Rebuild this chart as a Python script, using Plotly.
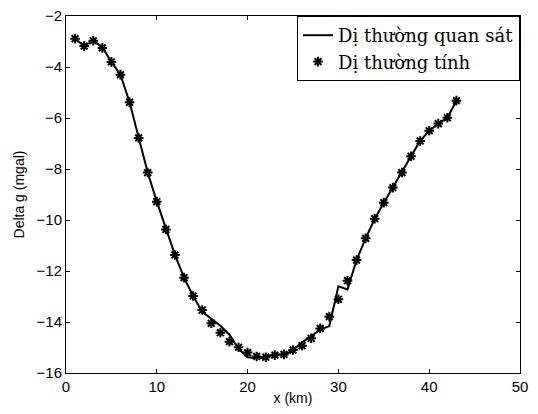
import plotly.graph_objects as go

x_km = list(range(1, 44))
observed = [-2.89, -3.18, -2.97, -3.22, -3.80, -4.30, -5.38, -6.78, -8.14, -9.28,
            -10.37, -11.37, -12.26, -12.98, -13.60, -13.86, -14.15, -14.50, -15.05, -15.38,
            -15.42, -15.40, -15.25, -15.30, -15.10, -14.80, -14.55, -14.30, -14.16, -12.60,
            -12.72, -11.57, -10.72, -9.95, -9.32, -8.73, -8.14, -7.50, -6.90, -6.50,
            -6.22, -5.99, -5.32]
computed = [-2.89, -3.18, -2.97, -3.25, -3.80, -4.30, -5.38, -6.78, -8.14, -9.28,
            -10.37, -11.37, -12.26, -12.98, -13.53, -14.05, -14.42, -14.77, -14.99, -15.20,
            -15.35, -15.38, -15.30, -15.27, -15.10, -14.93, -14.64, -14.25, -13.79, -13.11,
            -12.38, -11.57, -10.72, -9.95, -9.32, -8.73, -8.14, -7.50, -6.90, -6.50,
            -6.22, -5.99, -5.32]
x_ticks = [0, 10, 20, 30, 40, 50]
y_ticks = [-16, -14, -12, -10, -8, -6, -4, -2]

fig = go.Figure()
fig.add_trace(go.Scatter(x=x_km, y=observed, mode="lines", name="Dị thường quan sát",
                         line=dict(color="black", width=2)))
fig.add_trace(go.Scatter(x=x_km, y=computed, mode="markers", name="Dị thường tính",
                         marker=dict(symbol="asterisk-open", size=8, color="black",
                                     line=dict(color="black", width=2))))

axis_common = dict(showline=True, linecolor="black", linewidth=1, mirror="ticks",
                   ticks="inside", ticklen=4, tickcolor="black", showgrid=False,
                   zeroline=False, automargin=False, ticklabeloverflow="allow",
                   tickfont=dict(family="Liberation Sans, Arial", size=15, color="black"))

fig.update_layout(
    width=522, height=398,
    margin=dict(l=58, r=10, t=8, b=33),
    paper_bgcolor="white", plot_bgcolor="white",
    xaxis=dict(range=[0, 50], tickvals=x_ticks,
               title=dict(text="x (km)", standoff=6,
                          font=dict(family="Liberation Sans, Arial", size=14, color="black")),
               **axis_common),
    yaxis=dict(range=[-16, -2], tickvals=y_ticks,
               title=dict(text="Delta g (mgal)", standoff=8,
                          font=dict(family="Liberation Sans, Arial", size=14, color="black")),
               **axis_common),
    legend=dict(x=1, xanchor="right", y=1, yanchor="top", bgcolor="white",
                bordercolor="black", borderwidth=1,
                font=dict(family="DejaVu Serif", size=18, color="black"),
                tracegroupgap=0),
    showlegend=True,
)

fig.write_html("out.html")
